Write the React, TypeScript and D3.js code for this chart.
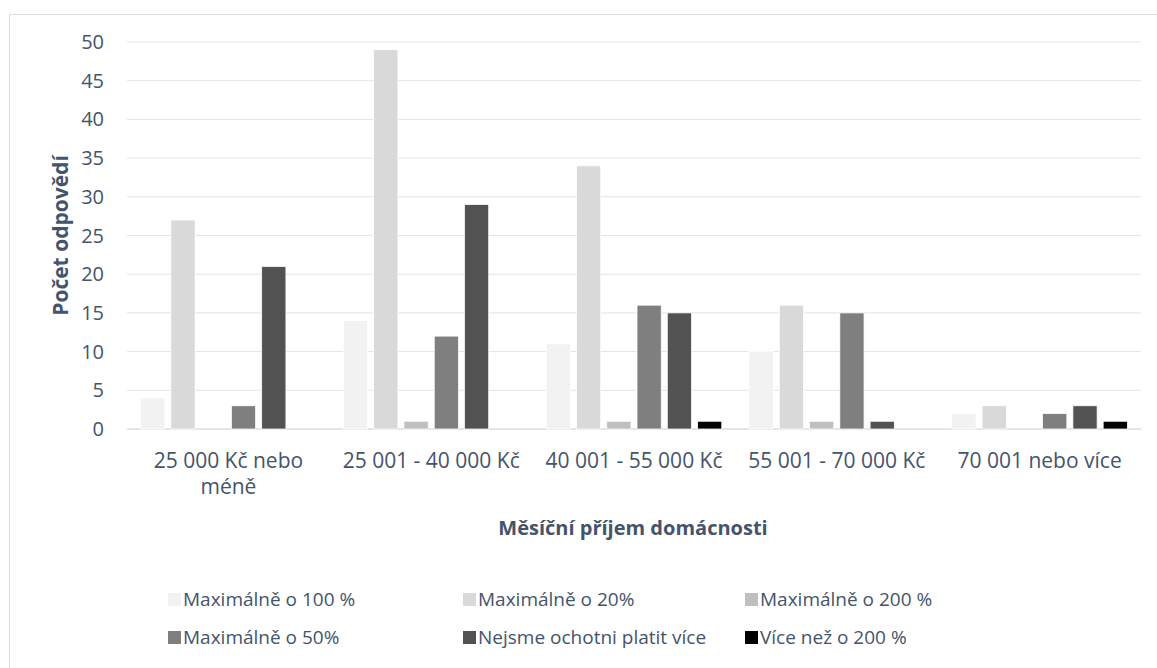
import React from "react";
import * as d3 from "d3";

const categories = [
  ["25 000 Kč nebo", "méně"],
  ["25 001 - 40 000 Kč"],
  ["40 001 - 55 000 Kč"],
  ["55 001 - 70 000 Kč"],
  ["70 001 nebo více"],
];
const seriesNames = [
  "Maximálně o 100 %",
  "Maximálně o 20%",
  "Maximálně o 200 %",
  "Maximálně o 50%",
  "Nejsme ochotni platit více",
  "Více než o 200 %",
];
const seriesColors = ["#f2f2f2", "#d9d9d9", "#bfbfbf", "#7f7f7f", "#525252", "#000000"];
const max100 = [4, 14, 11, 10, 2];
const max20 = [27, 49, 34, 16, 3];
const max200 = [0, 1, 1, 1, 0];
const max50 = [3, 12, 16, 15, 2];
const nejsme = [21, 29, 15, 1, 3];
const vice200 = [0, 0, 1, 0, 1];
const seriesValues = [max100, max20, max200, max50, nejsme, vice200];
const yTicks = [0, 5, 10, 15, 20, 25, 30, 35, 40, 45, 50];

const W = 1157;
const H = 668;
const left = 127;
const right = 1141;
const top = 42;
const bottom = 429;
const textColor = "#44546a";
const font = "'Open Sans', sans-serif";

export default function App() {
  const x0 = d3.scaleBand<number>().domain(d3.range(categories.length)).range([left, right]).paddingInner(0).paddingOuter(0);
  const x1 = d3.scaleBand<number>().domain(d3.range(seriesNames.length)).range([0, x0.bandwidth()]).paddingInner(0.2).paddingOuter(0.45);
  const y = d3.scaleLinear().domain([0, 50]).range([bottom, top]);

  const legendX = [168, 463, 745];
  const legendY = [599, 637];

  return (
    <svg width={W} height={H} style={{ position: "absolute", left: 0, top: 0 }}>
      <rect x={0} y={0} width={W} height={H} fill="#fff" />
      <rect x={9.5} y={14.5} width={W + 10} height={H + 10} fill="none" stroke="#d9dde3" strokeWidth={1} />
      {yTicks.map((t) => (
        <g key={t}>
          <line x1={left} x2={right} y1={y(t)} y2={y(t)} stroke={t === 0 ? "#d9dde3" : "#e1e4e9"} strokeWidth={t === 0 ? 1.5 : 1} />
          <text x={104} y={y(t)} dy="0.35em" textAnchor="end" fontFamily={font} fontSize={20} fill={textColor}>{t}</text>
        </g>
      ))}
      {seriesValues.map((vals, si) =>
        vals.map((v, ci) =>
          v > 0 ? (
            <rect
              key={si + "-" + ci}
              x={(x0(ci) as number) + (x1(si) as number)}
              y={y(v)}
              width={x1.bandwidth()}
              height={bottom - y(v)}
              fill={seriesColors[si]}
              stroke="#fff"
              strokeWidth={0.75}
            />
          ) : null
        )
      )}
      {categories.map((lines, ci) =>
        lines.map((l, li) => (
          <text
            key={ci + "-" + li}
            x={(x0(ci) as number) + x0.bandwidth() / 2}
            y={461 + li * 26}
            dy="0.35em"
            textAnchor="middle"
            fontFamily={font}
            fontSize={21}
            fill={textColor}
          >
            {l}
          </text>
        ))
      )}
      <text transform={`translate(61,${(top + bottom) / 2}) rotate(-90)`} dy="0.35em" textAnchor="middle" fontFamily={font} fontSize={21} fontWeight="bold" fill={textColor}>
        Počet odpovědí
      </text>
      <text x={(left + right) / 2 - 1} y={528} dy="0.35em" textAnchor="middle" fontFamily={font} fontSize={20} fontWeight="bold" fill={textColor}>
        Měsíční příjem domácnosti
      </text>
      {seriesNames.map((name, i) => {
        const lx = legendX[i % 3];
        const ly = legendY[Math.floor(i / 3)];
        return (
          <g key={name}>
            <rect x={lx} y={ly - 6} width={13} height={13} fill={seriesColors[i]} />
            <text x={lx + 15} y={ly} dy="0.35em" fontFamily={font} fontSize={19} fill={textColor}>{name}</text>
          </g>
        );
      })}
    </svg>
  );
}
